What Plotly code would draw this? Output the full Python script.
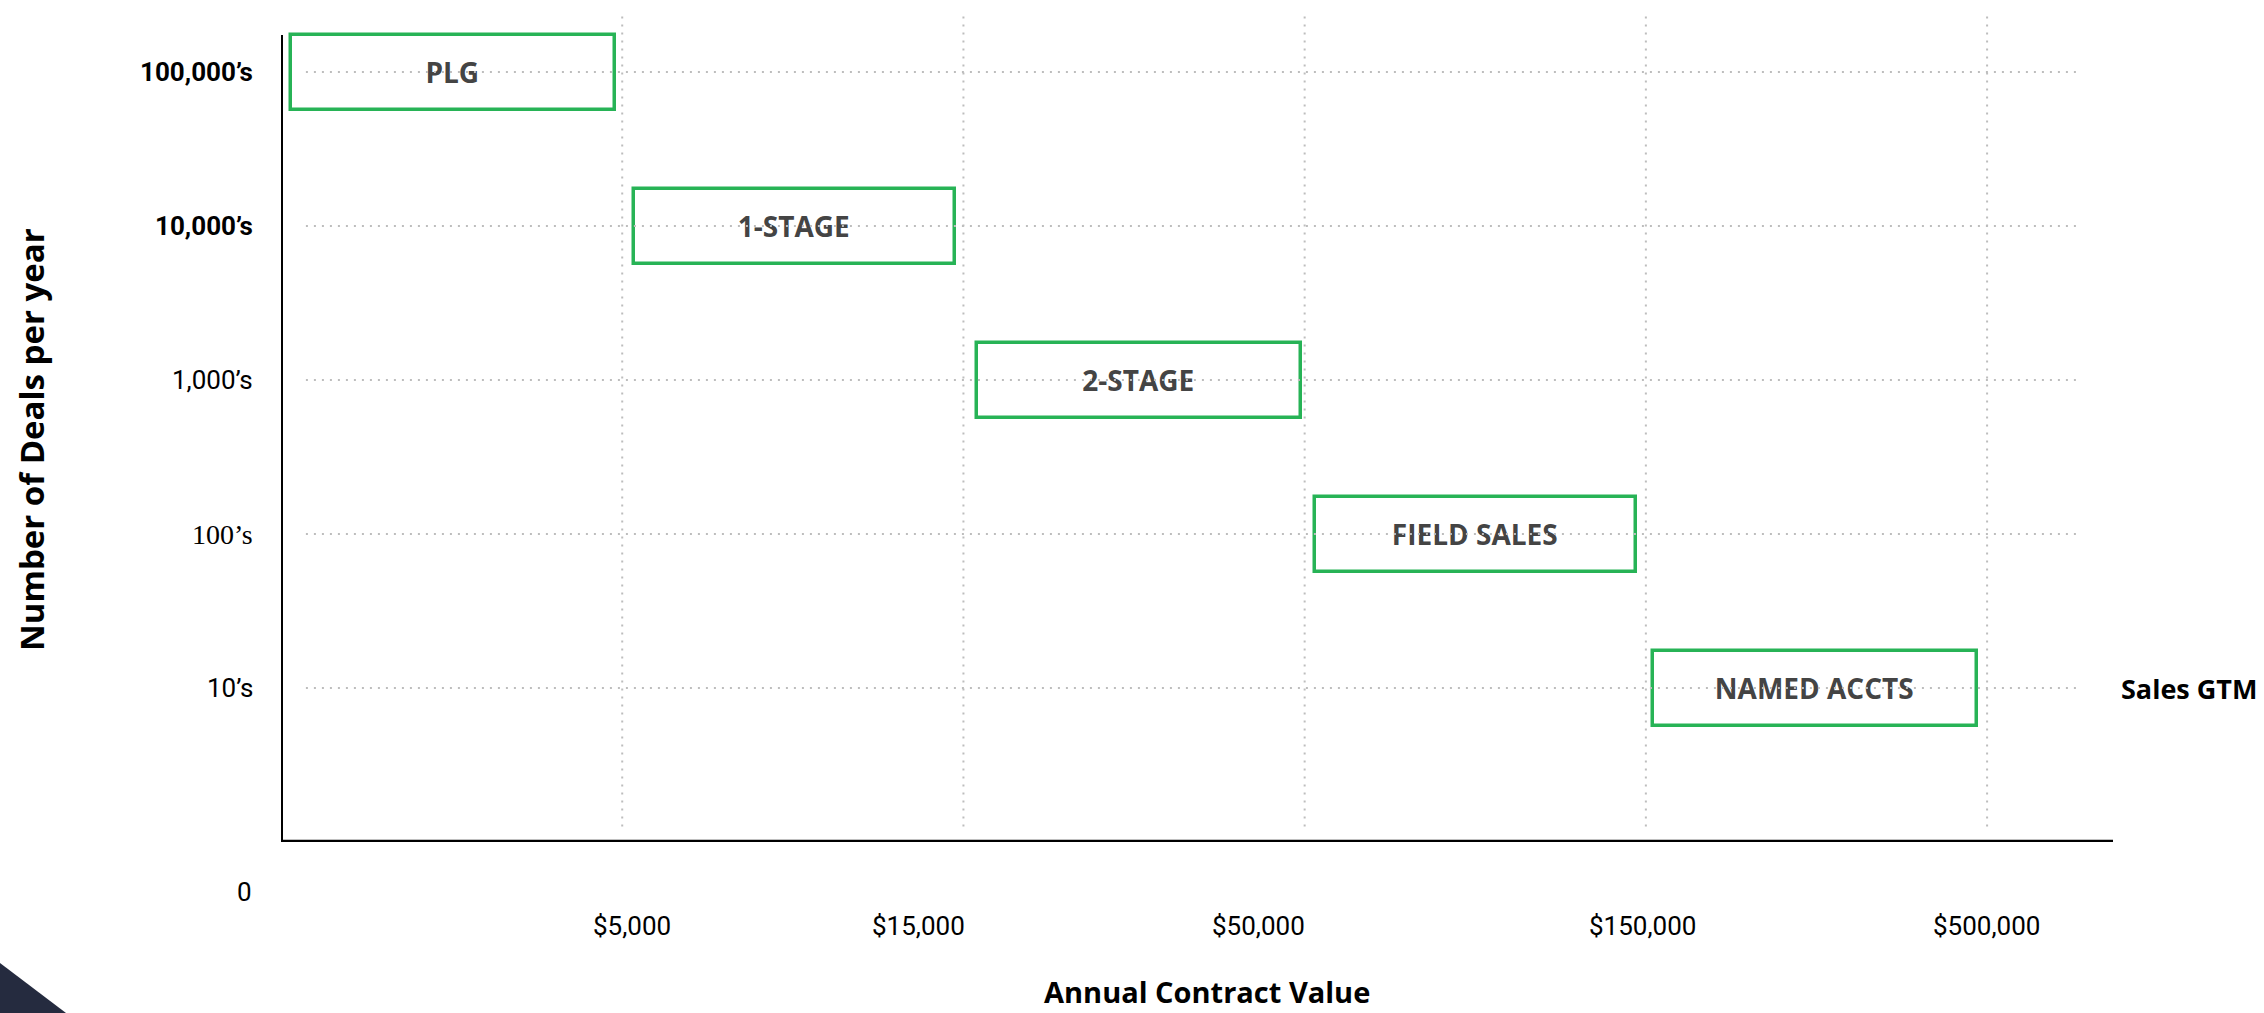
import plotly.graph_objects as go

# ---------------- data ----------------
segments = ["PLG", "1-STAGE", "2-STAGE", "FIELD SALES", "NAMED ACCTS"]
deal_level = [5, 4, 3, 2, 1]                 # 100,000's ... 10's
acv_start = [0.03, 1.035, 2.04, 3.03, 4.02]  # position on ACV scale (index of tick)
acv_end = [0.98, 1.975, 2.99, 3.97, 4.97]

y_tick_vals = [5, 4, 3, 2, 1]
y_tick_text = ["100,000’s", "10,000’s", "1,000’s", "100’s", "10’s"]
x_tick_vals = [1, 2, 3, 4, 5]
x_tick_text = ["$5,000", "$15,000", "$50,000", "$150,000", "$500,000"]

# ---------------- styling / layout constants ----------------
GREEN = "#27b356"
GRID = "#bdbdbd"
W, H = 2264, 1013
L, R, T, B = 281, 2264 - 2113, 12, 1013 - 842
X_MAX = 5.369
Y_MAX = 5.39
TITLE_FONT = "Open Sans"
TICK_FONT = "Roboto"

fig = go.Figure()

# dotted grid lines
gx, gy = [], []
for v in y_tick_vals:
    gx += [0.073, 5.273, None]
    gy += [v, v, None]
for v in x_tick_vals:
    gx += [v, v, None]
    gy += [0.10, Y_MAX, None]
fig.add_trace(go.Scatter(
    x=gx, y=gy, mode="lines",
    line=dict(color=GRID, width=2, dash="2px,6px"),
    hoverinfo="skip", showlegend=False,
))

# segment boxes
fig.add_trace(go.Bar(
    y=deal_level,
    x=[e - s for s, e in zip(acv_start, acv_end)],
    base=acv_start,
    orientation="h",
    width=0.487,
    marker=dict(color="white", line=dict(color=GREEN, width=3.5)),
    text=segments,
    textposition="inside",
    insidetextanchor="middle",
    textangle=0,
    textfont=dict(family=TITLE_FONT, size=28, color="#444444", weight="bold"),
    hoverinfo="skip", showlegend=False,
))

# axis lines
fig.add_shape(type="line", x0=0, x1=0, y0=0, y1=5.24, xref="x", yref="y",
              line=dict(color="black", width=4), layer="above")
fig.add_shape(type="line", x0=0, x1=X_MAX, y0=0, y1=0, xref="x", yref="y",
              line=dict(color="black", width=4.5), layer="above")

# bottom-left decorative triangle
def px(xp):
    return (xp - L) / (W - L - R)

def py(yp):
    return (H - B - yp) / (H - T - B)

fig.add_shape(
    type="path", xref="paper", yref="paper",
    path=f"M {px(0)},{py(963)} L {px(66)},{py(1013)} L {px(0)},{py(1013)} Z",
    fillcolor="#252b3f", line=dict(width=0), layer="above",
)

# y tick labels
y_fonts = [
    dict(family=TICK_FONT, size=26, color="black", weight="bold"),
    dict(family=TICK_FONT, size=26, color="black", weight="bold"),
    dict(family=TICK_FONT, size=26, color="black"),
    dict(family="Liberation Serif", size=28, color="black"),
    dict(family=TICK_FONT, size=26, color="black"),
]
for v, t, f in zip(y_tick_vals, y_tick_text, y_fonts):
    fig.add_annotation(x=0, y=v, xref="x", yref="y", text=t, showarrow=False,
                       xanchor="right", yanchor="middle", xshift=-26, font=f)

# origin label
fig.add_annotation(x=0, y=0, xref="x", yref="y", text="0", showarrow=False,
                   xanchor="center", yanchor="middle", xshift=-37, yshift=-50,
                   font=dict(family=TICK_FONT, size=26, color="black"))

# x tick labels
x_label_shift = [10, -45, -46, -3, -1]
for v, t, s in zip(x_tick_vals, x_tick_text, x_label_shift):
    fig.add_annotation(x=v, y=0, xref="x", yref="y", text=t, showarrow=False,
                       xanchor="center", yanchor="middle", xshift=s, yshift=-84,
                       font=dict(family=TICK_FONT, size=26, color="black"))

# axis titles
fig.add_annotation(x=px(1207), y=py(991), xref="paper", yref="paper",
                   text="<b>Annual Contract Value</b>", showarrow=False,
                   xanchor="center", yanchor="middle",
                   font=dict(family=TITLE_FONT, size=29, color="black"))
fig.add_annotation(x=px(32), y=py(440), xref="paper", yref="paper",
                   text="<b>Number of Deals per year</b>", showarrow=False,
                   textangle=-90, xanchor="center", yanchor="middle",
                   font=dict(family=TITLE_FONT, size=33, color="black"))
fig.add_annotation(x=px(2119), y=1, xref="paper", yref="y",
                   text="<b>Sales GTM</b>", showarrow=False,
                   xanchor="left", yanchor="middle",
                   font=dict(family=TITLE_FONT, size=27, color="black"))

fig.update_layout(
    width=W, height=H,
    margin=dict(l=L, r=R, t=T, b=B, pad=0),
    paper_bgcolor="white", plot_bgcolor="white",
    showlegend=False,
    bargap=0,
    xaxis=dict(range=[0, X_MAX], showgrid=False, zeroline=False,
               showticklabels=False, showline=False, fixedrange=True),
    yaxis=dict(range=[0, Y_MAX], showgrid=False, zeroline=False,
               showticklabels=False, showline=False, fixedrange=True),
)

fig.write_html("out.html")
